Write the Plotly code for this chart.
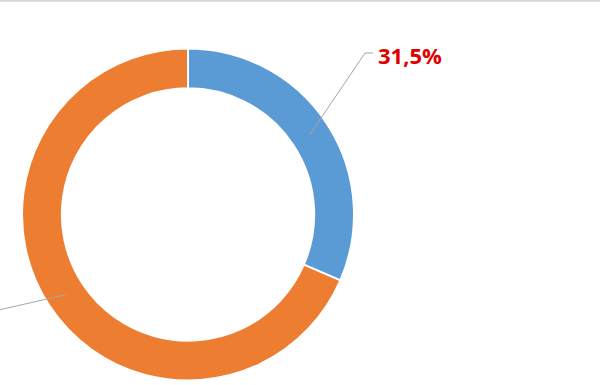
import math
import plotly.graph_objects as go

labels = ["A", "B"]
values = [31.5, 68.5]
colors = ["#5B9BD5", "#ED7D31"]
label_texts = ["31,5%", "68,5%"]

W, H = 600, 385
cx, cy = 188, 214.5          # donut centre in pixels (from top-left)
R_out, hole = 166, 0.76
R_mid = R_out * (1 + hole) / 2

def px(x):
    return x / W

def py(y):
    return 1 - y / H

fig = go.Figure(go.Pie(
    labels=labels, values=values, hole=hole, sort=False,
    direction="clockwise", rotation=0,
    marker=dict(colors=colors, line=dict(color="white", width=2)),
    textinfo="none", hoverinfo="label+percent", showlegend=False,
    domain=dict(x=[px(cx - R_out), px(cx + R_out)],
                y=[py(cy + R_out), py(cy - R_out)]),
))

# leader line anchor points, computed from slice mid-angles
total = sum(values)
cum = 0
anchors = []
for v in values:
    mid = (cum + v / 2) / total * 2 * math.pi
    anchors.append((cx + R_mid * math.sin(mid), cy - R_mid * math.cos(mid)))
    cum += v

shapes = [
    dict(type="line", xref="paper", yref="paper", x0=0, x1=1, y0=py(0.8), y1=py(0.8),
         line=dict(color="#d6d6d6", width=2)),
]
# blue slice leader
ax, ay = anchors[0]
shapes.append(dict(type="path", xref="paper", yref="paper",
                   path=f"M {px(ax)} {py(ay)} L {px(365)} {py(53)} L {px(373)} {py(53)}",
                   line=dict(color="#a6a6a6", width=1)))
# orange slice leader (label is off-canvas)
bx, by = anchors[1]
shapes.append(dict(type="line", xref="paper", yref="paper",
                   x0=px(bx), y0=py(by), x1=px(-10), y1=py(312),
                   line=dict(color="#a6a6a6", width=1)))

annotations = [
    dict(xref="paper", yref="paper", x=px(376), y=py(55), xanchor="left", yanchor="middle",
         text="<b>" + label_texts[0] + "</b>", showarrow=False,
         font=dict(family="Open Sans", size=22, color="#E00000")),
]

fig.update_layout(
    width=W, height=H, margin=dict(l=0, r=0, t=0, b=0),
    paper_bgcolor="white", plot_bgcolor="white",
    shapes=shapes, annotations=annotations,
)
fig.write_html("out.html")
